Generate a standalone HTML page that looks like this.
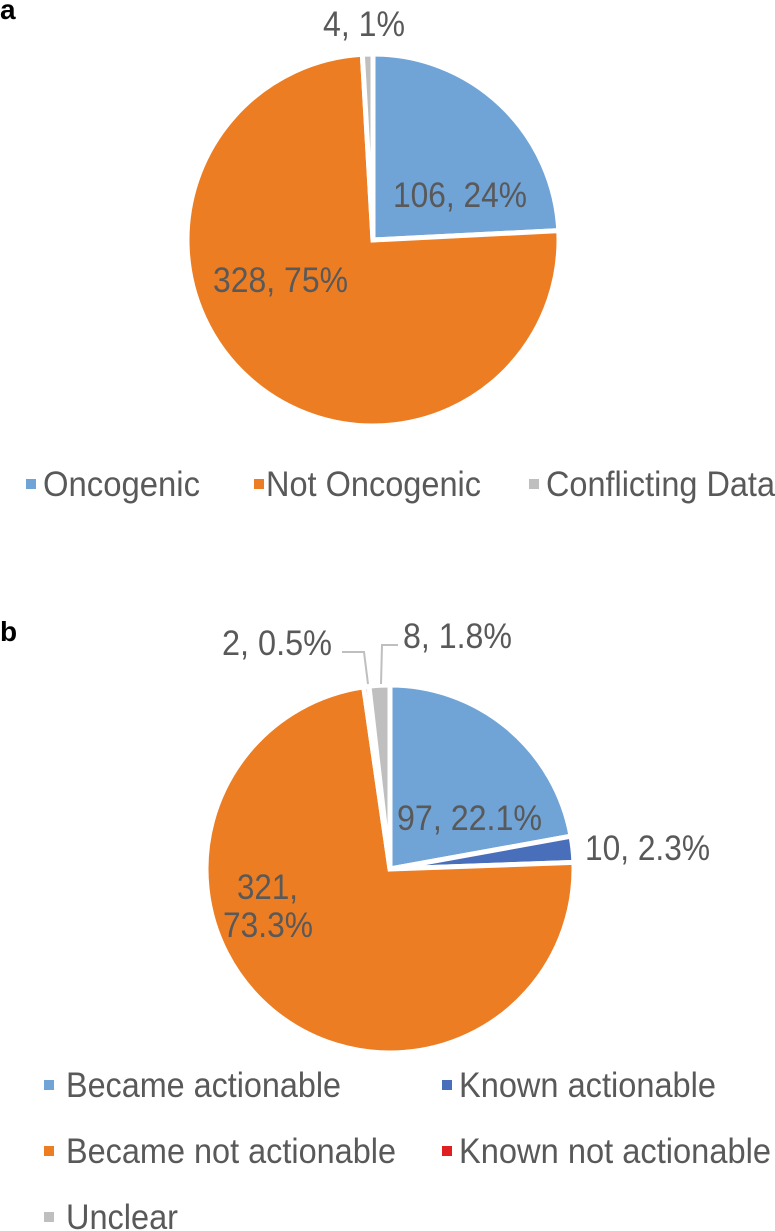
<!DOCTYPE html>
<html><head><meta charset="utf-8"><style>
html,body{margin:0;padding:0;background:#fff;}
svg{display:block;font-family:"Liberation Sans",Arial,sans-serif;}
</style></head><body>
<svg id="chart" width="775" height="1231" viewBox="0 0 775 1231">
<text x="0" y="19" font-size="28" font-weight="bold" fill="#000">a</text>
<text x="0" y="641" font-size="28" font-weight="bold" fill="#000">b</text>
<g id="pieA"></g>
<g id="pieB"></g>
<polyline points="342,652 364,652 368,684" fill="none" stroke="#bfbfbf" stroke-width="2"/>
<polyline points="381,684 382,645 398,645" fill="none" stroke="#bfbfbf" stroke-width="2"/>
<g font-size="35" fill="#595959">
<text x="323" y="36" textLength="82" lengthAdjust="spacingAndGlyphs">4, 1%</text>
<text x="393" y="207" textLength="134" lengthAdjust="spacingAndGlyphs">106, 24%</text>
<text x="213" y="292" textLength="135" lengthAdjust="spacingAndGlyphs">328, 75%</text>
<text x="222" y="655" textLength="110" lengthAdjust="spacingAndGlyphs">2, 0.5%</text>
<text x="403" y="648" textLength="109" lengthAdjust="spacingAndGlyphs">8, 1.8%</text>
<text x="397" y="830" textLength="145" lengthAdjust="spacingAndGlyphs">97, 22.1%</text>
<text x="585" y="860" textLength="125" lengthAdjust="spacingAndGlyphs">10, 2.3%</text>
<text x="237" y="899" textLength="61" lengthAdjust="spacingAndGlyphs">321,</text>
<text x="223" y="937" textLength="90" lengthAdjust="spacingAndGlyphs">73.3%</text>
</g>
<g font-size="35" fill="#595959">
<rect x="26" y="479" width="10" height="10" fill="#70a3d6"/>
<text x="43" y="496" textLength="157" lengthAdjust="spacingAndGlyphs">Oncogenic</text>
<rect x="254" y="479" width="10" height="10" fill="#ed7d22"/>
<text x="266" y="496" textLength="215" lengthAdjust="spacingAndGlyphs">Not Oncogenic</text>
<rect x="529" y="479" width="10" height="10" fill="#bfbfbf"/>
<text x="546" y="496" textLength="229" lengthAdjust="spacingAndGlyphs">Conflicting Data</text>

<rect x="44" y="1080" width="10" height="10" fill="#70a3d6"/>
<text x="66" y="1097" textLength="275" lengthAdjust="spacingAndGlyphs">Became actionable</text>
<rect x="442" y="1080" width="10" height="10" fill="#4a6fba"/>
<text x="459" y="1097" textLength="257" lengthAdjust="spacingAndGlyphs">Known actionable</text>
<rect x="44" y="1146" width="10" height="10" fill="#ed7d22"/>
<text x="66" y="1163" textLength="330" lengthAdjust="spacingAndGlyphs">Became not actionable</text>
<rect x="442" y="1146" width="10" height="10" fill="#e02020"/>
<text x="459" y="1163" textLength="312" lengthAdjust="spacingAndGlyphs">Known not actionable</text>
<rect x="44" y="1212" width="10" height="10" fill="#bfbfbf"/>
<text x="66" y="1229" textLength="112" lengthAdjust="spacingAndGlyphs">Unclear</text>
</g>
</svg>
<script>
const categoriesA = ["Oncogenic", "Not Oncogenic", "Conflicting Data"];
const valuesA = [106, 328, 4];
const colorsA = ["#70a3d6", "#ed7d22", "#bfbfbf"];
const categoriesB = ["Became actionable", "Known actionable", "Became not actionable", "Known not actionable", "Unclear"];
const valuesB = [97, 10, 321, 2, 8];
const colorsB = ["#70a3d6", "#4a6fba", "#ed7d22", "#e02020", "#bfbfbf"];

function drawPie(gid, cats, vals, cols, cx, cy, r) {
  const g = document.getElementById(gid);
  const total = vals.reduce((a, b) => a + b, 0);
  let a0 = 0;
  vals.forEach((v, i) => {
    const a1 = a0 + v / total * Math.PI * 2;
    const p = (a) => [cx + r * Math.sin(a), cy - r * Math.cos(a)];
    const s = p(a0), e = p(a1);
    const large = (a1 - a0) > Math.PI ? 1 : 0;
    const path = document.createElementNS("http://www.w3.org/2000/svg", "path");
    path.setAttribute("d", `M${cx},${cy} L${s[0]},${s[1]} A${r},${r} 0 ${large} 1 ${e[0]},${e[1]} Z`);
    path.setAttribute("fill", cols[i]);
    path.setAttribute("stroke", "#fff");
    path.setAttribute("stroke-width", "5");
    path.setAttribute("stroke-linejoin", "miter");
    
    
    g.appendChild(path);
    a0 = a1;
  });
}
drawPie("pieA", categoriesA, valuesA, colorsA, 373, 240, 186);
drawPie("pieB", categoriesB, valuesB, colorsB, 390, 869, 184);
</script>
</body></html>
